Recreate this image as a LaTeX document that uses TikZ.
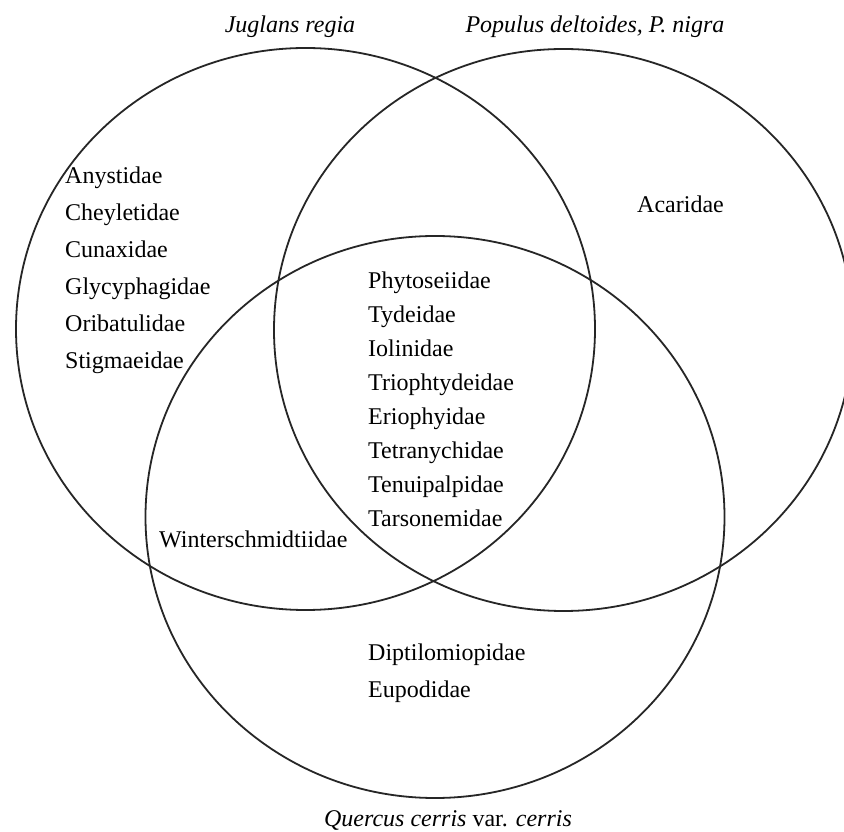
\documentclass[tikz,border=0pt]{standalone}
\usepackage{fontspec}
\setmainfont{Liberation Serif}
\begin{document}
\begin{tikzpicture}[x=1pt,y=1pt,
  ring/.style={line width=1.8pt, black!85},
  lbl/.style={inner sep=0pt, anchor=base west, font=\fontsize{24}{28}\selectfont},
  ttl/.style={inner sep=0pt, anchor=base, font=\fontsize{24}{28}\selectfont\itshape}]
\clip (0,0) rectangle (844,831);
\fill[white] (0,0) rectangle (844,831);
% circles (y = 831 - pixel row)
\draw[ring] (305.5,502) ellipse [x radius=289.5pt, y radius=281pt];
\draw[ring] (563.5,501) ellipse [x radius=289.5pt, y radius=281pt];
\draw[ring] (435,314) ellipse [x radius=289.5pt, y radius=281pt];
% titles
\node[ttl] (tJ) at (290,798) {Juglans regia};
\node[ttl] (tP) at (595,798) {Populus deltoides, P. nigra};
\node[ttl] (tQ) at (448,5) {Quercus cerris \textup{var.} cerris};
% Juglans only
\node[lbl] (a1) at (65,647) {Anystidae};
\node[lbl] (a2) at (65,610) {Cheyletidae};
\node[lbl] (a3) at (65,573) {Cunaxidae};
\node[lbl] (a4) at (65,536) {Glycyphagidae};
\node[lbl] (a5) at (65,499) {Oribatulidae};
\node[lbl] (a6) at (65,462) {Stigmaeidae};
% Populus only
\node[lbl] (b1) at (637,618) {Acaridae};
% all three
\node[lbl] (c1) at (368,542) {Phytoseiidae};
\node[lbl] (c2) at (368,508) {Tydeidae};
\node[lbl] (c3) at (368,474) {Iolinidae};
\node[lbl] (c4) at (368,440) {Triophtydeidae};
\node[lbl] (c5) at (368,406) {Eriophyidae};
\node[lbl] (c6) at (368,372) {Tetranychidae};
\node[lbl] (c7) at (368,338) {Tenuipalpidae};
\node[lbl] (c8) at (368,304) {Tarsonemidae};
% Juglans + Quercus
\node[lbl] (d1) at (159,283) {Winterschmidtiidae};
% Quercus only
\node[lbl] (e1) at (368,171) {Diptilomiopidae};
\node[lbl] (e2) at (368,134) {Eupodidae};
\end{tikzpicture}
\end{document}
